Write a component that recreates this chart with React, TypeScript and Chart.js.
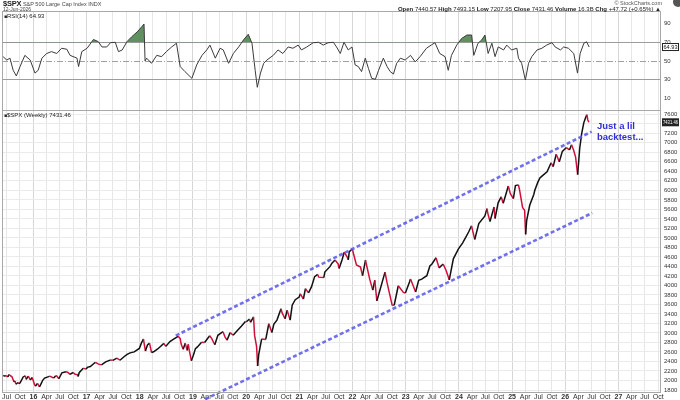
import { useEffect, useRef } from 'react';
import { Chart, registerables } from 'chart.js';

Chart.register(...registerables);

// ---------- DATA ----------
const priceDates = [
  '2015-05-22','2015-06-12','2015-06-26','2015-07-10','2015-07-17','2015-08-07','2015-08-21','2015-08-28',
  '2015-09-04','2015-09-18','2015-09-25','2015-10-02','2015-10-23','2015-11-06','2015-11-13','2015-11-27',
  '2015-12-11','2015-12-24','2016-01-08','2016-01-15','2016-01-29','2016-02-12','2016-02-26','2016-03-04',
  '2016-03-18','2016-04-15','2016-04-22','2016-05-20','2016-06-03','2016-06-10','2016-06-24','2016-07-15',
  '2016-08-12','2016-08-26','2016-09-09','2016-09-30','2016-10-14','2016-10-28','2016-11-04','2016-11-11',
  '2016-12-09','2016-12-30','2017-01-06','2017-01-27','2017-02-24','2017-03-03','2017-03-24','2017-04-13',
  '2017-05-12','2017-06-16','2017-06-30','2017-07-28','2017-08-18','2017-09-15','2017-10-06','2017-10-27',
  '2017-11-24','2017-12-29','2018-01-12','2018-01-26','2018-02-09','2018-02-23','2018-03-09','2018-03-23',
  '2018-04-06','2018-05-04','2018-05-25','2018-06-15','2018-06-29','2018-07-27','2018-08-24','2018-09-21',
  '2018-10-05','2018-10-12','2018-10-26','2018-11-09','2018-11-23','2018-11-30','2018-12-07','2018-12-21',
  '2019-01-04','2019-01-18','2019-02-01','2019-03-01','2019-03-22','2019-04-26','2019-05-10','2019-05-31',
  '2019-06-21','2019-07-26','2019-08-09','2019-08-23','2019-09-13','2019-10-04','2019-10-25','2019-11-29',
  '2019-12-27','2020-01-03','2020-01-24','2020-01-31','2020-02-21','2020-02-28','2020-03-13','2020-03-20',
  '2020-03-27','2020-04-17','2020-05-15','2020-06-05','2020-06-26','2020-07-10','2020-07-31','2020-08-28',
  '2020-09-04','2020-09-25','2020-10-09','2020-10-30','2020-11-13','2020-12-04','2020-12-31','2021-01-08',
  '2021-01-29','2021-02-12','2021-03-05','2021-03-26','2021-04-16','2021-05-07','2021-05-14','2021-06-18',
  '2021-06-25','2021-07-30','2021-08-13','2021-09-03','2021-09-24','2021-10-01','2021-10-22','2021-11-05',
  '2021-11-26','2021-12-03','2021-12-10','2021-12-31','2022-01-07','2022-01-28','2022-02-25','2022-03-11',
  '2022-03-31','2022-04-29','2022-05-20','2022-06-03','2022-06-17','2022-07-08','2022-08-12','2022-08-26',
  '2022-09-30','2022-10-14','2022-11-11','2022-12-16','2022-12-30','2023-01-27','2023-02-03','2023-02-24',
  '2023-03-10','2023-03-31','2023-04-21','2023-05-26','2023-06-16','2023-06-30','2023-07-28','2023-08-18',
  '2023-09-15','2023-10-06','2023-10-27','2023-11-24','2023-12-29','2024-01-26','2024-02-16','2024-03-08',
  '2024-03-28','2024-04-19','2024-05-17','2024-06-28','2024-07-12','2024-07-19','2024-08-02','2024-08-30',
  '2024-09-06','2024-09-27','2024-10-18','2024-11-01','2024-11-15','2024-12-06','2024-12-20','2025-01-10',
  '2025-01-24','2025-02-14','2025-02-21','2025-03-14','2025-03-28','2025-04-04','2025-04-11','2025-05-02',
  '2025-05-30','2025-06-06','2025-06-27','2025-07-11','2025-07-25','2025-08-29','2025-09-26','2025-10-10',
  '2025-10-31','2025-11-21','2025-12-12','2026-01-09','2026-01-30','2026-02-13','2026-02-27','2026-03-13',
  '2026-03-27','2026-04-03','2026-04-10','2026-04-24','2026-05-08','2026-05-22','2026-05-29','2026-06-05',
  '2026-06-12'
];
const priceCloses = [
  2126,2094,2101,2076,2126,2077,1971,1988,
  1921,1958,1931,1951,2075,2099,2023,2090,
  2012,2061,1922,1880,1940,1865,1948,1999,
  2050,2081,2091,2053,2099,2096,2037,2162,
  2184,2169,2128,2168,2133,2126,2085,2164,
  2259,2239,2277,2295,2367,2383,2344,2329,
  2391,2433,2423,2472,2426,2500,2549,2581,
  2602,2674,2786,2873,2620,2747,2786,2588,
  2604,2663,2721,2780,2718,2819,2875,2930,
  2885,2767,2658,2781,2633,2760,2633,2417,
  2532,2671,2707,2804,2801,2940,2881,2752,
  2950,3026,2919,2847,3007,2952,3023,3141,
  3240,3235,3295,3225,3338,2954,2711,2305,
  2541,2875,2864,3194,3009,3185,3271,3508,
  3427,3298,3477,3270,3585,3699,3756,3824,
  3714,3934,3842,3974,4185,4232,4174,4166,
  4281,4395,4468,4535,4455,4357,4544,4698,
  4595,4538,4712,4766,4677,4432,4385,4204,
  4530,4132,3901,4109,3675,3899,4280,4058,
  3586,3583,3993,3852,3840,4071,4136,3970,
  3862,4109,4133,4205,4409,4450,4582,4370,
  4450,4308,4117,4559,4770,4891,5005,5124,
  5254,4967,5303,5460,5615,5505,5346,5648,
  5408,5738,5864,5729,5870,6090,5930,5827,
  6101,6115,6013,5639,5581,5074,5363,5686,
  5912,6000,6173,6260,6300,6390,6580,6500,
  6760,6600,6820,6900,6850,6960,6850,6700,
  6330,6600,6880,7200,7420,7540,7590,7480,
  7431.46
];

const rsiTimes = [
  2015.43,2015.50,2015.56,2015.62,2015.68,2015.75,2015.84,2015.94,2016.03,2016.09,2016.16,2016.25,
  2016.34,2016.44,2016.53,2016.63,2016.69,2016.82,2016.85,2016.91,2017.01,2017.13,2017.22,2017.29,
  2017.38,2017.45,2017.54,2017.60,2017.67,2017.76,2017.85,2017.95,2018.04,2018.08,2018.10,2018.13,
  2018.22,2018.32,2018.41,2018.50,2018.60,2018.69,2018.76,2018.85,2018.98,2019.07,2019.17,2019.26,
  2019.32,2019.42,2019.51,2019.57,2019.67,2019.76,2019.86,2019.95,2020.04,2020.11,2020.17,2020.21,
  2020.27,2020.33,2020.39,2020.51,2020.60,2020.69,2020.79,2020.88,2020.98,2021.04,2021.14,2021.26,
  2021.36,2021.45,2021.54,2021.64,2021.70,2021.77,2021.84,2021.92,2021.99,2022.05,2022.11,2022.17,
  2022.24,2022.30,2022.36,2022.43,2022.49,2022.58,2022.65,2022.71,2022.77,2022.83,2022.90,2022.99,
  2023.09,2023.18,2023.27,2023.39,2023.48,2023.55,2023.64,2023.74,2023.80,2023.86,2023.96,2024.05,
  2024.15,2024.24,2024.28,2024.36,2024.43,2024.49,2024.55,2024.62,2024.68,2024.74,2024.84,2024.90,
  2024.99,2025.09,2025.12,2025.18,2025.25,2025.31,2025.37,2025.47,2025.56,2025.65,2025.75,2025.81,
  2025.91,2025.97,2026.06,2026.16,2026.23,2026.28,2026.35,2026.40,2026.45
];
const rsiValues = [
  54.6,51,53,40,34,44,56,51,37,40,53,58,
  60,58,63.6,62.5,56,53,44,60,63.6,73,70.7,65,
  65,69.6,70,60,61.8,70.7,76,81,86.8,89.6,50,53,
  47.5,56,54.6,60,65,69,44,38.6,31.4,45.7,56,61.8,
  67,53,63.6,61.8,47.5,58,65,72.5,78.6,69,40,21.8,
  37,47.5,51,56,61.8,58,65,63.6,67,61.8,65,69.5,
  70,67,69.5,70,65,58,70,61.8,65,45.7,44,38.6,
  53,42,31.4,30.4,40,53,44,38.6,36,47.5,53,51,
  56,49,54.6,63.6,67,69.6,58,54.6,40,56,67,74,
  77.8,77.8,56,69,72.5,77.8,58,69,54.6,65,61.8,67,
  61.8,63.6,53,47.5,29.6,47.5,54.6,61.8,63.6,67,69.6,65,
  61.8,65,63.6,58,37,58,69,70.5,64.93
];

// trend channel drawn on the chart (start / end)
const upperChannelDates = ['2018-09-05', '2026-07-01'];
const upperChannelValues = [2944, 7234];
const lowerChannelDates = ['2019-03-26', '2026-07-05'];
const lowerChannelValues = [1606, 5524];

const priceTicks = [1800,2000,2200,2400,2600,2800,3000,3200,3400,3600,3800,4000,4200,4400,4600,4800,5000,
  5200,5400,5600,5800,6000,6200,6400,6600,6800,7000,7200,7400,7600];
const rsiTicks = [10, 30, 50, 70, 90];
const rsiBands = [30, 70];
const rsiMid = 50;
const quarterNames = ['Jan', 'Apr', 'Jul', 'Oct'];
const firstQuarter = { year: 2015, q: 2 };
const lastQuarter = { year: 2027, q: 3 };

const annotationLines = ['Just a lil', 'backtest...'];

// ---------- helpers ----------
function toYear(s: string): number {
  const [y, m, d] = s.split('-').map(Number);
  const start = Date.UTC(y, 0, 1);
  const end = Date.UTC(y + 1, 0, 1);
  return y + (Date.UTC(y, m - 1, d) - start) / (end - start);
}

const quarterTicks: { value: number; label: string; isYear: boolean }[] = [];
for (let y = firstQuarter.year; y <= lastQuarter.year; y++) {
  for (let q = 0; q < 4; q++) {
    if (y === firstQuarter.year && q < firstQuarter.q) continue;
    if (y === lastQuarter.year && q > lastQuarter.q) continue;
    const mm = String(q * 3 + 1).padStart(2, '0');
    quarterTicks.push({
      value: toYear(`${y}-${mm}-01`),
      label: q === 0 ? String(y % 100).padStart(2, '0') : quarterNames[q],
      isYear: q === 0,
    });
  }
}

const FONT = "'Liberation Sans', Arial, sans-serif";
const lastClose = priceCloses[priceCloses.length - 1];
const lastRsi = rsiValues[rsiValues.length - 1];

const panelPlugin = {
  id: 'panels',
  beforeDatasetsDraw(chart: any) {
    const { ctx, chartArea } = chart;
    const rsi = chart.scales.rsi;
    ctx.save();
    ctx.strokeStyle = '#a0a0a0';
    ctx.lineWidth = 1;
    ctx.setLineDash([6, 2, 1, 2]);
    const y = Math.round(rsi.getPixelForValue(rsiMid)) + 0.5;
    ctx.beginPath();
    ctx.moveTo(chartArea.left, y);
    ctx.lineTo(chartArea.right, y);
    ctx.stroke();
    ctx.restore();
  },
  afterDraw(chart: any) {
    const { ctx, chartArea } = chart;
    const rsi = chart.scales.rsi;
    const price = chart.scales.price;
    ctx.save();
    ctx.strokeStyle = '#a8a8a8';
    ctx.lineWidth = 1;
    [rsi, price].forEach((s: any) => {
      ctx.strokeRect(Math.round(chartArea.left) + 0.5, Math.round(s.top) + 0.5,
        Math.round(chartArea.right - chartArea.left) - 1, Math.round(s.bottom - s.top));
    });
    // value boxes on the right axis
    const bx = chartArea.right + 1;
    const bw = 680 - bx - 1;
    ctx.font = `6px ${FONT}`;
    ctx.textBaseline = 'middle';
    ctx.textAlign = 'left';
    const py = price.getPixelForValue(lastClose);
    ctx.fillStyle = '#222';
    ctx.fillRect(bx, py - 4, bw, 8);
    ctx.fillStyle = '#fff';
    ctx.fillText(lastClose.toFixed(2), bx + 1, py + 0.5, bw - 2);
    const ry = rsi.getPixelForValue(lastRsi);
    ctx.fillStyle = '#fff';
    ctx.fillRect(bx, ry - 4, bw, 8);
    ctx.strokeStyle = '#222';
    ctx.strokeRect(bx + 0.5, ry - 3.5, bw - 1, 7);
    ctx.fillStyle = '#111';
    ctx.fillText(lastRsi.toFixed(2), bx + 1.5, ry + 0.5, bw - 3);
    ctx.restore();
  },
};

export default function App() {
  const ref = useRef<HTMLCanvasElement | null>(null);

  useEffect(() => {
    if (!ref.current) return;
    const pricePts = priceDates.map((d, i) => ({ x: toYear(d), y: priceCloses[i] }));
    const rsiPts = rsiTimes.map((t, i) => ({ x: t, y: rsiValues[i] }));
    const upper = upperChannelDates.map((d, i) => ({ x: toYear(d), y: upperChannelValues[i] }));
    const lower = lowerChannelDates.map((d, i) => ({ x: toYear(d), y: lowerChannelValues[i] }));
    const channelStyle = {
      borderColor: 'rgba(88,88,236,0.85)',
      borderWidth: 2.6,
      borderDash: [4, 2.5],
      pointRadius: 0,
      fill: false,
      clip: false as any,
      yAxisID: 'price',
      order: 0,
    };
    const yTickFont = { size: 6, family: FONT };

    const chart = new Chart(ref.current, {
      type: 'line',
      data: {
        datasets: [
          { ...channelStyle, data: upper, label: 'upper' },
          { ...channelStyle, data: lower, label: 'lower' },
          {
            label: '$SPX',
            data: pricePts,
            yAxisID: 'price',
            borderWidth: 1.5,
            borderColor: '#111',
            pointRadius: 0,
            fill: false,
            order: 1,
            segment: {
              borderColor: (c: any) => (c.p1.parsed.y < c.p0.parsed.y ? '#d0103a' : '#111'),
            },
          },
          {
            label: 'RSI',
            data: rsiPts,
            yAxisID: 'rsi',
            borderWidth: 1,
            borderColor: '#3a3a3a',
            pointRadius: 0,
            order: 2,
            fill: { target: { value: 70 }, above: 'rgba(84,136,84,0.92)', below: 'rgba(0,0,0,0)' },
          },
        ],
      } as any,
      options: {
        animation: false,
        responsive: false,
        maintainAspectRatio: false,
        devicePixelRatio: 1,
        parsing: false as any,
        normalized: true,
        layout: { padding: { top: 11, left: 2, right: 0, bottom: 0 } },
        plugins: { legend: { display: false }, tooltip: { enabled: false }, title: { display: false } },
        scales: {
          x: {
            type: 'linear',
            min: 2015.41,
            max: 2027.8,
            afterBuildTicks: (s: any) => { s.ticks = quarterTicks.map((t) => ({ value: t.value })); },
            afterFit: (s: any) => { s.height = 8; },
            border: { display: false },
            grid: {
              drawTicks: false,
              color: (c: any) => (quarterTicks[c.index] && quarterTicks[c.index].isYear ? '#d6d6d6' : '#e6e6e6'),
              lineWidth: 1,
            },
            ticks: {
              autoSkip: false,
              maxRotation: 0,
              padding: 1,
              color: '#333',
              font: (c: any) => ({
                size: 7,
                family: FONT,
                weight: quarterTicks[c.index] && quarterTicks[c.index].isYear ? 'bold' : 'normal',
              }),
              callback: (_v: any, i: number) => (quarterTicks[i] ? quarterTicks[i].label : ''),
            },
          },
          rsi: {
            type: 'linear',
            position: 'right',
            stack: 'panels',
            stackWeight: 99,
            weight: 0,
            min: -2.5,
            max: 103.5,
            afterBuildTicks: (s: any) => { s.ticks = rsiTicks.map((v) => ({ value: v })); },
            afterFit: (s: any) => { s.width = 19; },
            border: { display: false },
            grid: {
              drawTicks: false,
              color: (c: any) => (rsiBands.includes(c.tick && c.tick.value) ? '#9c9c9c' : 'rgba(0,0,0,0)'),
            },
            ticks: { autoSkip: false, padding: 3, color: '#333', font: yTickFont, callback: (v: any) => String(v) },
          },
          price: {
            type: 'linear',
            position: 'right',
            stack: 'panels',
            stackWeight: 282,
            weight: 1,
            min: 1758,
            max: 7690,
            afterBuildTicks: (s: any) => { s.ticks = priceTicks.map((v) => ({ value: v })); },
            afterFit: (s: any) => { s.width = 19; },
            border: { display: false },
            grid: { drawTicks: false, color: '#eaeaea' },
            ticks: { autoSkip: false, padding: 3, color: '#333', font: yTickFont, callback: (v: any) => String(v) },
          },
        } as any,
      },
      plugins: [panelPlugin],
    });
    return () => chart.destroy();
  }, []);

  const small: any = { position: 'absolute', fontFamily: FONT, whiteSpace: 'nowrap', color: '#222', lineHeight: 1 };

  return (
    <div style={{ position: 'fixed', left: 0, top: 0, width: 680, height: 400, background: '#fff', overflow: 'hidden' }}>
      <canvas ref={ref} width={680} height={400} style={{ position: 'absolute', left: 0, top: 0, width: 680, height: 400 }} />
      <div style={{ ...small, left: 3, top: 0, fontSize: 5.5 }}>
        <b style={{ fontSize: 7.5, letterSpacing: -0.2 }}>$SPX</b>{' '}
        <span style={{ color: '#444' }}>S&amp;P 500 Large Cap Index INDX</span>
      </div>
      <div style={{ ...small, left: 3, top: 6.5, fontSize: 5, color: '#444' }}>12-Jun-2026</div>
      <div style={{ ...small, left: 4, top: 12.5, fontSize: 6 }}>
        <span style={{ fontSize: 5 }}>■</span>RSI(14) 64.93
      </div>
      <div style={{ ...small, left: 4, top: 111.5, fontSize: 6 }}>
        <span style={{ fontSize: 5 }}>■</span>$SPX (Weekly) 7431.46
      </div>
      <div style={{ ...small, right: 18, top: 0.5, fontSize: 5.5, color: '#555' }}>© StockCharts.com</div>
      <div style={{ ...small, right: 19, top: 6, fontSize: 6 }}>
        <b>Open</b> 7440.57 <b>High</b> 7493.15 <b>Low</b> 7207.95 <b>Close</b> 7431.46 <b>Volume</b> 16.3B{' '}
        <b>Chg</b> +47.72 (+0.65%) ▲
      </div>
      <div style={{ position: 'absolute', left: 673, top: -3, width: 10, height: 10, borderRadius: 5, background: '#555' }} />
      <div
        style={{
          position: 'absolute', left: 597, top: 120, fontFamily: FONT, fontWeight: 'bold', fontSize: 9.5,
          lineHeight: '11px', color: '#2e2ed6', whiteSpace: 'nowrap',
        }}
      >
        {annotationLines.map((t) => (
          <div key={t}>{t}</div>
        ))}
      </div>
    </div>
  );
}
